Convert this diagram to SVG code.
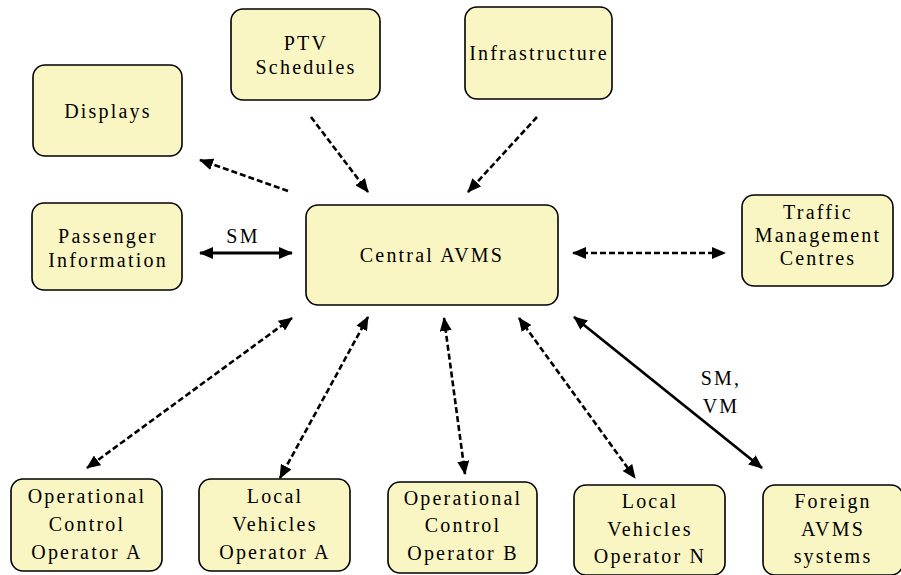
<svg xmlns="http://www.w3.org/2000/svg" width="901" height="575" viewBox="0 0 901 575">
<style>
.box{fill:#FAF6C4;stroke:#000;stroke-width:1.6}
.t{font-family:'Liberation Serif','Tinos','DejaVu Serif',serif;font-size:20px;letter-spacing:2.2px;fill:#000;text-anchor:middle}
.d{stroke:#000;stroke-width:2.6;stroke-dasharray:6 3;fill:none}
.s{stroke:#000;stroke-width:2.8;fill:none}
</style>
<defs>
<marker id="ah" markerUnits="userSpaceOnUse" markerWidth="14" markerHeight="12" refX="13" refY="6" orient="auto-start-reverse">
<path d="M0,0 L14,6 L0,12 z" fill="#000"/>
</marker>
</defs>
<rect width="901" height="575" fill="#fff"/>
<g id="displays"><rect class="box" x="33" y="65" width="149" height="91" rx="12"/><text class="t" x="108" y="118" font-family="Liberation Serif, serif">Displays</text></g>
<g id="ptv"><rect class="box" x="231" y="9" width="149" height="91" rx="12"/><text class="t" x="306" y="50">PTV</text><text class="t" x="306" y="74">Schedules</text></g>
<g id="infrastructure"><rect class="box" x="465" y="7" width="147" height="92" rx="12"/><text class="t" x="539" y="60">Infrastructure</text></g>
<g id="passenger"><rect class="box" x="32" y="203" width="150" height="87" rx="12"/><text class="t" x="108" y="243">Passenger</text><text class="t" x="108" y="267">Information</text></g>
<g id="central"><rect class="box" x="306" y="205" width="252" height="100" rx="12"/><text class="t" x="432" y="262">Central AVMS</text></g>
<g id="traffic"><rect class="box" x="742" y="195" width="151" height="91" rx="12"/><text class="t" x="818" y="219">Traffic</text><text class="t" x="818" y="242">Management</text><text class="t" x="818" y="265">Centres</text></g>
<g id="opctrlA"><rect class="box" x="11" y="479" width="151" height="92" rx="12"/><text class="t" x="87" y="503">Operational</text><text class="t" x="87" y="531">Control</text><text class="t" x="87" y="559">Operator A</text></g>
<g id="localA"><rect class="box" x="199" y="479" width="151" height="92" rx="12"/><text class="t" x="275" y="503">Local</text><text class="t" x="275" y="531">Vehicles</text><text class="t" x="275" y="559">Operator A</text></g>
<g id="opctrlB"><rect class="box" x="388" y="482" width="149" height="91" rx="12"/><text class="t" x="463" y="505">Operational</text><text class="t" x="463" y="532">Control</text><text class="t" x="463" y="560">Operator B</text></g>
<g id="localN"><rect class="box" x="574" y="485" width="151" height="90" rx="12"/><text class="t" x="650" y="508">Local</text><text class="t" x="650" y="536">Vehicles</text><text class="t" x="650" y="563">Operator N</text></g>
<g id="foreign"><rect class="box" x="763" y="485" width="140" height="90" rx="12"/><text class="t" x="833" y="508">Foreign</text><text class="t" x="833" y="536">AVMS</text><text class="t" x="833" y="563">systems</text></g>
<g id="connectors">
<line class="d" x1="311" y1="117" x2="368" y2="192" marker-end="url(#ah)"/>
<line class="d" x1="537" y1="117" x2="468" y2="192" marker-end="url(#ah)"/>
<line class="d" x1="288" y1="191" x2="200" y2="160" marker-end="url(#ah)"/>
<line class="s" x1="200" y1="253" x2="292" y2="253" marker-start="url(#ah)" marker-end="url(#ah)"/>
<text class="t" x="243" y="243">SM</text>
<line class="d" x1="573" y1="253" x2="725" y2="253" marker-start="url(#ah)" marker-end="url(#ah)"/>
<line class="d" x1="292" y1="318" x2="87" y2="468" marker-start="url(#ah)" marker-end="url(#ah)"/>
<line class="d" x1="368" y1="317" x2="280" y2="478" marker-start="url(#ah)" marker-end="url(#ah)"/>
<line class="d" x1="444" y1="318" x2="465" y2="474" marker-start="url(#ah)" marker-end="url(#ah)"/>
<line class="d" x1="519" y1="318" x2="635" y2="478" marker-start="url(#ah)" marker-end="url(#ah)"/>
<line class="s" x1="574" y1="317" x2="762" y2="468" marker-start="url(#ah)" marker-end="url(#ah)"/>
<text class="t" x="721" y="385">SM,</text>
<text class="t" x="721" y="413">VM</text>
</g>
</svg>
